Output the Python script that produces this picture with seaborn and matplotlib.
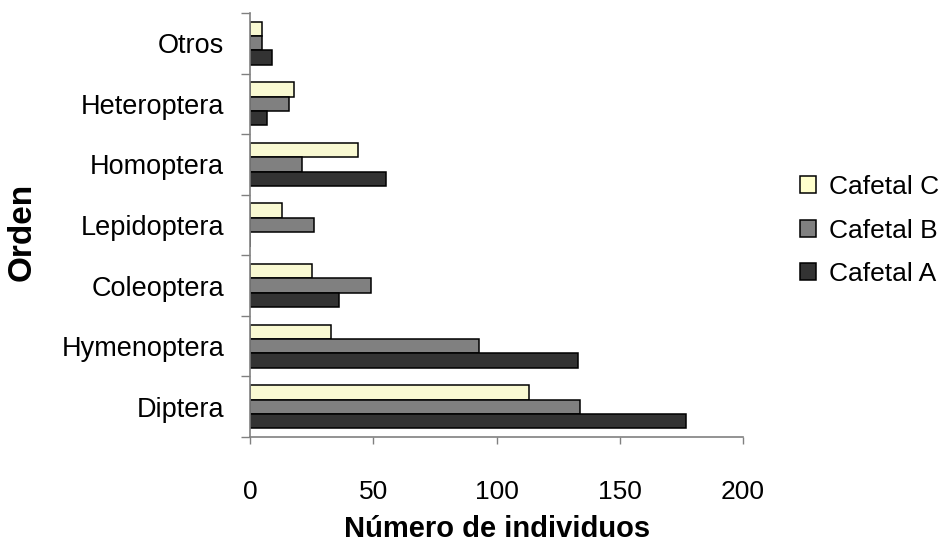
import numpy as np
import pandas as pd
import matplotlib
matplotlib.use("Agg")
import matplotlib.pyplot as plt
import seaborn as sns
from matplotlib.patches import Patch
from matplotlib.ticker import FixedLocator

# ---- data ----
ordenes = ["Otros", "Heteroptera", "Homoptera", "Lepidoptera", "Coleoptera", "Hymenoptera", "Diptera"]
cafetal_c = [5, 18, 44, 13, 25, 33, 113]
cafetal_b = [5, 16, 21, 26, 49, 93, 134]
cafetal_a = [9, 7, 55, 0, 36, 133, 177]
series_names = ["Cafetal C", "Cafetal B", "Cafetal A"]
x_ticks = [0, 50, 100, 150, 200]

colors = ["#FFFFCC", "#808080", "#333333"]

rows = []
for name, vals in zip(series_names, [cafetal_c, cafetal_b, cafetal_a]):
    for o, v in zip(ordenes, vals):
        rows.append({"Orden": o, "n": v, "Cafetal": name})
df = pd.DataFrame(rows)

sns.set_style("white")
plt.rcParams['font.family'] = ['Liberation Sans', 'DejaVu Sans']
plt.rcParams['text.color'] = 'black'
plt.rcParams['xtick.labelcolor'] = 'black'
plt.rcParams['ytick.labelcolor'] = 'black'

W, H = 949, 548
fig = plt.figure(figsize=(W / 100, H / 100), dpi=100)
ax = fig.add_axes([250 / W, 1 - 437 / H, 493 / W, 424 / H])

sns.barplot(data=df, y="Orden", x="n", hue="Cafetal", order=ordenes,
            hue_order=series_names, palette=colors, orient="h", width=0.71,
            edgecolor="black", linewidth=1.1, ax=ax, legend=False)

ax.set_xlim(0, 200)
ax.set_ylim(6.5, -0.5)
ax.set_xticks(x_ticks)
ax.set_xticklabels([str(t) for t in x_ticks])
ax.yaxis.set_minor_locator(FixedLocator(np.arange(-0.5, 7.0, 1.0)))
ax.tick_params(axis="y", which="major", length=0, pad=18.5, labelsize=19.5, labelcolor="black")
ax.tick_params(axis="y", which="minor", length=6.5, width=1, color="#808080", direction="out", left=True)
ax.tick_params(axis="x", which="major", length=5, width=1, color="#808080", direction="out",
               bottom=True, pad=26, labelsize=19, labelcolor="black")
ax.set_xlabel("")
ax.set_ylabel("")
for s in ["top", "right"]:
    ax.spines[s].set_visible(False)
for s in ["left", "bottom"]:
    ax.spines[s].set_color("#808080")
    ax.spines[s].set_linewidth(1.2)

fig.text(497 / W, 1 - 537 / H, "Número de individuos", ha="center", va="baseline",
         fontsize=21, fontweight="bold", color="black")
fig.text(22 / W, 1 - 232 / H, "Orden", ha="center", va="center", rotation=90,
         fontsize=24, fontweight="bold", color="black")

handles = [Patch(facecolor=c, edgecolor="black", linewidth=1.1) for c in colors]
fig.legend(handles, series_names, loc="upper left", bbox_to_anchor=(800 / W, 1 - 175 / H),
           frameon=False, fontsize=19, handlelength=0.6, handleheight=0.6,
           handletextpad=0.5, labelspacing=0.74, borderpad=0, borderaxespad=0,
           labelcolor="black")

fig.savefig("out.png", dpi=100)
